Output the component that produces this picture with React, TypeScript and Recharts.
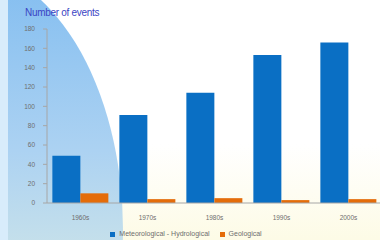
import React from 'react'
import { BarChart, Bar, XAxis, YAxis, Legend } from 'recharts'

// decades and event counts
const decades = ['1960s', '1970s', '1980s', '1990s', '2000s']
const meteoHydro = [49, 91, 114, 153, 166]
const geological = [10, 4, 5, 3, 4]
const yTicks = [0, 20, 40, 60, 80, 100, 120, 140, 160, 180]
const legendOrder = ['Meteorological - Hydrological', 'Geological']

const data = decades.map((decade, i) => ({
  decade,
  meteo: meteoHydro[i],
  geo: geological[i],
}))

const font = '"Liberation Sans", Arial, sans-serif'

const Background = () => (
  <svg width={384} height={240} style={{ position: 'absolute', left: 0, top: 0 }}>
    <defs>
      <linearGradient id="page" x1="0" y1="0" x2="0" y2="1">
        <stop offset="0" stopColor="#ffffff" />
        <stop offset="0.6" stopColor="#ffffff" />
        <stop offset="1" stopColor="#fdfbe6" />
      </linearGradient>
      <linearGradient id="blob" x1="0" y1="0" x2="0" y2="1">
        <stop offset="0" stopColor="#80bcf0" />
        <stop offset="0.35" stopColor="#acd2f2" />
        <stop offset="0.65" stopColor="#d6e9e6" />
        <stop offset="1" stopColor="#f8f6c6" />
      </linearGradient>
    </defs>
    <rect x={0} y={0} width={384} height={240} fill="url(#page)" />
    <ellipse cx={-40} cy={230} rx={163} ry={265} fill="url(#blob)" />
    <rect x={0} y={0} width={8} height={240} fill="#d8ecfb" />
  </svg>
)

export default function App() {
  return (
    <div style={{ position: 'fixed', left: 0, top: 0, width: 384, height: 240, overflow: 'hidden', fontFamily: font }}>
      <Background />
      <div style={{ position: 'absolute', left: 25, top: 7, fontSize: 10, color: '#3b45c4', fontFamily: font, letterSpacing: -0.3 }}>
        Number of events
      </div>
      <div style={{ position: 'absolute', left: 0, top: 0 }}>
        <BarChart
          width={384}
          height={240}
          data={data}
          margin={{ top: 29, right: 2, left: 0, bottom: 0 }}
          barGap={0}
          barCategoryGap="8%"
        >
          <YAxis
            width={47}
            domain={[0, 180]}
            ticks={yTicks}
            interval={0}
            tickSize={4}
            tickMargin={8}
            axisLine={{ stroke: '#a6a6a6' }}
            tickLine={{ stroke: '#a6a6a6' }}
            tick={{ fontSize: 6.5, fill: '#6e6e6e', fontFamily: font }}
          />
          <XAxis
            xAxisId="edge"
            type="number"
            domain={[0, 5]}
            ticks={[1, 2, 3, 4]}
            allowDataOverflow
            height={0}
            tick={false}
            tickSize={3}
            axisLine={false}
            tickLine={{ stroke: '#a6a6a6' }}
          />
          <XAxis
            xAxisId="cat"
            dataKey="decade"
            height={25}
            tickLine={false}
            axisLine={{ stroke: '#a6a6a6' }}
            tickMargin={6}
            tick={{ fontSize: 6.5, fill: '#6e6e6e', fontFamily: font }}
          />
          <Legend
            verticalAlign="bottom"
            height={12}
            iconType="square"
            iconSize={5}
            itemSorter={(item: any) => legendOrder.indexOf(item.value)}
            wrapperStyle={{ fontSize: 7, fontFamily: font, color: '#6e6e6e', lineHeight: '12px' }}
            formatter={(value) => <span style={{ color: '#6e6e6e' }}>{value}</span>}
          />
          <Bar xAxisId="cat" dataKey="meteo" name="Meteorological - Hydrological" fill="#0a6fc4" isAnimationActive={false} />
          <Bar xAxisId="cat" dataKey="geo" name="Geological" fill="#e46c0a" isAnimationActive={false} />
        </BarChart>
      </div>
    </div>
  )
}
